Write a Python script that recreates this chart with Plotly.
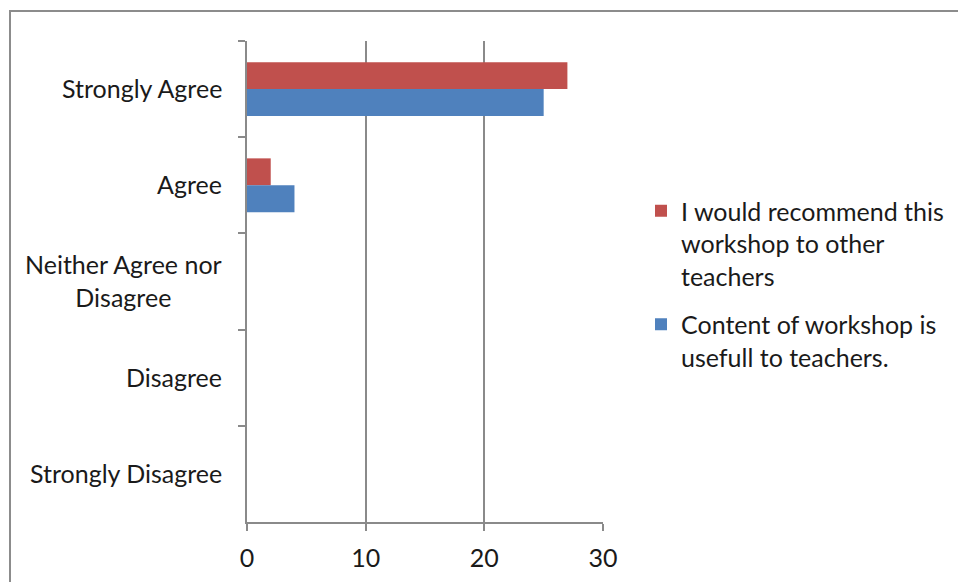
import plotly.graph_objects as go

categories = ["Strongly Agree", "Agree", "Neither Agree nor Disagree", "Disagree", "Strongly Disagree"]
category_labels = ["Strongly Agree", "Agree", "Neither Agree nor<br>Disagree", "Disagree", "Strongly Disagree"]
recommend_values = [27, 2, 0, 0, 0]
useful_values = [25, 4, 0, 0, 0]
series_names = ["I would recommend this<br>workshop to other<br>teachers",
                "Content of workshop is<br>usefull to teachers."]
x_ticks = [0, 10, 20, 30]

FONT = "Lato"
FS = 25
TXT = "#1a1a1a"
GRID = "#8a8a8a"

W, H = 958, 582
L, R, T, B = 247, 355, 41, 60
pw = W - L - R
ph = H - T - B

fig = go.Figure()
fig.add_trace(go.Bar(y=categories, x=recommend_values, orientation="h", legendgroup="a",
                     name=series_names[0], marker=dict(color="#C0504D", line=dict(width=0))))
fig.add_trace(go.Bar(y=categories, x=useful_values, orientation="h", legendgroup="b",
                     name=series_names[1], marker=dict(color="#4F81BD", line=dict(width=0))))

for cat, lab in zip(categories, category_labels):
    fig.add_annotation(x=0, xref="paper", y=cat, yref="y", text=lab, showarrow=False,
                       xanchor="right", xshift=-23, yshift=1, align="center",
                       font=dict(family=FONT, size=FS, color=TXT))

def px_x(p):
    return (p - L) / pw
def px_y(p):
    return (H - B - p) / ph

# outer chart border
fig.add_shape(type="rect", xref="paper", yref="paper",
              x0=px_x(10), x1=px_x(962), y0=px_y(586), y1=px_y(11),
              line=dict(color="#8c8c8c", width=2), fillcolor="rgba(0,0,0,0)", layer="below")

fig.update_layout(
    width=W, height=H,
    margin=dict(l=L, r=R, t=T, b=B, pad=0, autoexpand=False),
    paper_bgcolor="white", plot_bgcolor="white",
    barmode="group", bargap=0.44, bargroupgap=0,
    font=dict(family=FONT, size=FS, color=TXT),
    showlegend=True,
    legend=dict(xref="container", yref="container", x=641 / W, y=1 - 188 / H,
                xanchor="left", yanchor="top",
                font=dict(family=FONT, size=FS, color=TXT), valign="top",
                bgcolor="rgba(0,0,0,0)", tracegroupgap=13, itemsizing="constant"),
    xaxis=dict(range=[0, 30], tickvals=x_ticks, ticktext=[str(v) for v in x_ticks],
               showgrid=True, gridcolor=GRID, gridwidth=2,
               showline=True, linecolor=GRID, linewidth=2,
               ticks="outside", ticklen=7, tickwidth=2, tickcolor=GRID,
               ticklabelstandoff=6,
               zeroline=False, fixedrange=True,
               tickfont=dict(family=FONT, size=FS, color=TXT)),
    yaxis=dict(categoryorder="array", categoryarray=categories, autorange="reversed",
               showticklabels=False, showgrid=False,
               showline=True, linecolor=GRID, linewidth=2,
               ticks="outside", tickson="boundaries", ticklen=7, tickwidth=2, tickcolor=GRID,
               zeroline=False, fixedrange=True),
)

fig.write_html("out.html")
